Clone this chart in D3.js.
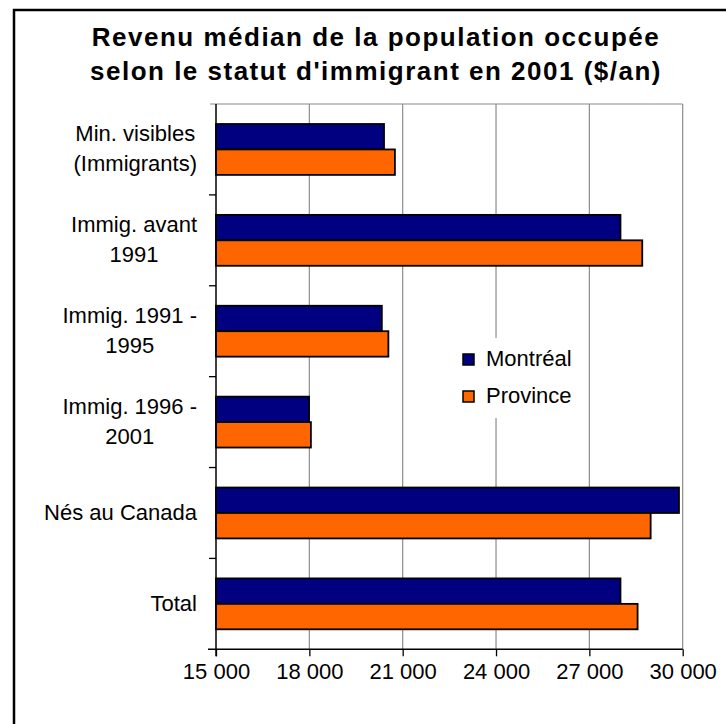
<!DOCTYPE html>
<html><head><meta charset="utf-8">
<script src="https://cdn.jsdelivr.net/npm/d3@7"></script>
<style>body{margin:0;background:#fff}svg{display:block}</style>
</head><body>
<script>
const categories = [
  ["Min. visibles","(Immigrants)"],
  ["Immig. avant","1991"],
  ["Immig. 1991 -","1995"],
  ["Immig. 1996 -","2001"],
  ["Nés au Canada"],
  ["Total"]
];
const seriesNames = ["Montréal","Province"];
const montreal = [20400, 28000, 20330, 17990, 29880, 28000];
const province = [20750, 28700, 20540, 18050, 28970, 28550];
const xTicks = [15000, 18000, 21000, 24000, 27000, 30000];
const titleLines = ["Revenu médian de la population occupée","selon le statut d'immigrant en 2001 ($/an)"];
const colors = ["#000080","#FF6600"];

(function(){
const W = 726, H = 724;
const svg = d3.select("body").append("svg").attr("width", W).attr("height", H);
const font = "'Liberation Sans', Arial, sans-serif";

svg.append("rect").attr("x",14).attr("y",10).attr("width",800).attr("height",800)
  .attr("fill","#fff").attr("stroke","#000").attr("stroke-width",2.5);

svg.selectAll("text.title").data(titleLines).join("text")
  .attr("x", 376).attr("y",(d,i)=>46+i*34).attr("text-anchor","middle")
  .attr("font-family",font).attr("font-weight","bold").attr("font-size",26)
  .attr("letter-spacing","1.5px").text(d=>d);

const pl = 216, pr = 682.7, pt = 104, pb = 649.3;
const x = d3.scaleLinear().domain([15000,30000]).range([pl,pr]);
const keys = categories.map((c,i)=>i);
const y = d3.scaleBand().domain(keys).range([pt,pb]).paddingInner(0.44).paddingOuter(0.22);
const ySub = d3.scaleBand().domain([0,1]).range([0,y.bandwidth()]);

svg.append("g").selectAll("line").data(xTicks.slice(1)).join("line")
  .attr("x1",d=>x(d)).attr("x2",d=>x(d)).attr("y1",pt).attr("y2",pb)
  .attr("stroke","#8c8c8c").attr("stroke-width",1.2);
svg.append("line").attr("x1",pl-6).attr("x2",pr).attr("y1",pt).attr("y2",pt)
  .attr("stroke","#8c8c8c").attr("stroke-width",1.2);

svg.append("rect").attr("x",455).attr("y",338).attr("width",130).attr("height",80).attr("fill","#fff");

const data = [];
keys.forEach(i=>{ data.push({c:i,s:0,v:montreal[i]}); data.push({c:i,s:1,v:province[i]}); });
svg.append("g").selectAll("rect").data(data).join("rect")
  .attr("x",x(15000)).attr("y",d=>y(d.c)+ySub(d.s))
  .attr("width",d=>x(d.v)-x(15000)).attr("height",ySub.bandwidth())
  .attr("fill",d=>colors[d.s]).attr("stroke","#000").attr("stroke-width",1.8);

const xAxis = svg.append("g").attr("transform",`translate(0,${pb})`)
  .call(d3.axisBottom(x).tickValues(xTicks).tickSize(7).tickPadding(7)
    .tickFormat(d=>d3.format(",")(d).replace(",", " ")));
xAxis.select(".domain").remove();
xAxis.append("line").attr("x1",pl-8).attr("x2",pr).attr("y1",0).attr("y2",0).attr("stroke","#000").attr("stroke-width",1.5);
xAxis.selectAll(".tick line").attr("stroke","#000").attr("stroke-width",1.3);
xAxis.selectAll("text").attr("font-family",font).attr("font-size",22).attr("fill","#000");

svg.append("line").attr("x1",pl).attr("x2",pl).attr("y1",pt).attr("y2",pb+7).attr("stroke","#000").attr("stroke-width",1.5);
const bounds = keys.map(i=>y(i)-y.step()*y.paddingOuter());
svg.append("g").selectAll("line").data(bounds.slice(1)).join("line")
  .attr("x1",pl-7).attr("x2",pl).attr("y1",d=>d).attr("y2",d=>d)
  .attr("stroke","#000").attr("stroke-width",1.3);

const lab = svg.append("g").attr("font-family",font).attr("font-size",22);
categories.forEach((lines,i)=>{
  const g = lab.append("g");
  const cy = y(i)+y.bandwidth()/2;
  const lh = 30;
  const t = g.selectAll("text").data(lines).join("text")
    .attr("y",(d,j)=>cy + (j-(lines.length-1)/2)*lh + 7)
    .attr("text-anchor","middle").text(d=>d);
  let w = 0; t.each(function(){ w = Math.max(w,this.getComputedTextLength()); });
  t.attr("x", 197 - w/2);
});

const leg = svg.append("g");
seriesNames.forEach((n,i)=>{
  leg.append("rect").attr("x",463).attr("y",354+i*37).attr("width",11).attr("height",11)
    .attr("fill",colors[i]).attr("stroke","#000").attr("stroke-width",1.5);
  leg.append("text").attr("x",486).attr("y",366+i*37).attr("font-family",font).attr("font-size",22).text(n);
});
})();
</script>
</body></html>
